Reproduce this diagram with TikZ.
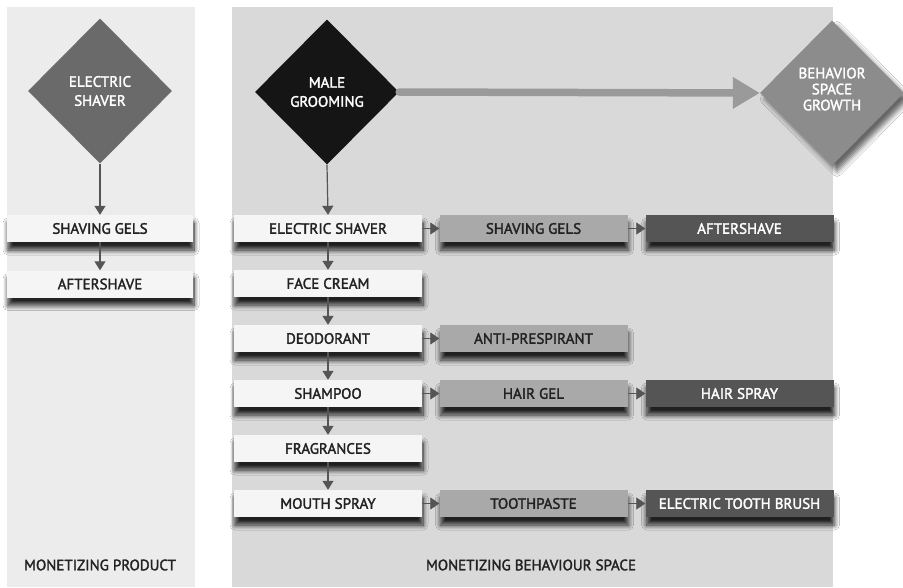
\documentclass[tikz,border=0pt]{standalone}
\usepackage{fontspec}
\setmainfont{PT Sans}
\usetikzlibrary{shapes.geometric,arrows.meta,shadows,shadows.blur}

\definecolor{panelL}{HTML}{ECECEC}
\definecolor{panelR}{HTML}{D9D9D9}
\definecolor{boxA}{HTML}{F5F5F5}
\definecolor{boxB}{HTML}{A9A9A9}
\definecolor{boxC}{HTML}{555555}
\definecolor{dmdA}{HTML}{6A6A6A}
\definecolor{dmdB}{HTML}{151515}
\definecolor{dmdC}{HTML}{8C8C8C}
\definecolor{ink}{HTML}{222222}
\definecolor{arr}{HTML}{555555}
\definecolor{bigarr}{HTML}{9A9A9A}

\tikzset{
  txt/.style={font=\fontsize{15}{19}\selectfont\addfontfeature{FakeBold=2}},
  lbl/.style={txt, text=ink},
  card/.style={rectangle, minimum width=188pt, minimum height=27pt, inner sep=0pt, txt,
    blur shadow={shadow xshift=1pt, shadow yshift=-8pt, shadow blur radius=5pt, shadow blur steps=10, shadow opacity=85}},
  cardA/.style={card, fill=boxA, text=ink},
  cardB/.style={card, fill=boxB, text=ink},
  cardC/.style={card, fill=boxC, text=white},
  dmd/.style={diamond, minimum width=144pt, minimum height=145pt, inner sep=0pt,
    align=center, text=white, txt},
  down/.style={draw=arr, line width=1.2pt, -{Triangle[length=9pt,width=11pt]}},
  side/.style={draw=arr, line width=0.8pt, -{Triangle[length=9pt,width=12pt]}},
}

\begin{document}
\begin{tikzpicture}[x=1pt,y=-1pt]
  \useasboundingbox (0,0) rectangle (903,587);
  \fill[white] (0,0) rectangle (903,587);

  % background panels
  \fill[panelL] (7,7) rectangle (195,587);
  \fill[panelR] (232,7) rectangle (833,587);

  % left panel: single product
  \node[dmd, fill=dmdA] (es) at (100,91) {ELECTRIC\\SHAVER};
  \node[cardA, minimum width=186pt] (lgels) at (100,228.5) {SHAVING GELS};
  \node[cardA, minimum width=186pt] (lafter) at (100,284) {AFTERSHAVE};
  \draw[down] (es.south) -- (lgels.north);
  \draw[down] (lgels.south) -- (lafter.north);
  \node[lbl] (lcap) at (100,565) {MONETIZING PRODUCT};

  % right panel: behaviour space
  \node[dmd, fill=dmdC, font=\fontsize{15}{16}\selectfont\addfontfeature{FakeBold=2},
    blur shadow={shadow xshift=5pt, shadow yshift=-6pt, shadow blur radius=5pt, shadow opacity=60}]
    (bsg) at (832,93) {BEHAVIOR\\SPACE\\GROWTH\\[-8pt]};
  \node[dmd, fill=dmdB] (mg) at (327,92) {MALE\\GROOMING};
  \draw[bigarr, line width=7.5pt, line cap=round, -{Triangle[length=27pt,width=30pt]}] (mg.east) -- (bsg.west);

  % first column
  \node[cardA] (c1) at (328,228.5) {ELECTRIC SHAVER};
  \node[cardA] (c2) at (328,283.5) {FACE CREAM};
  \node[cardA] (c3) at (328,338.5) {DEODORANT};
  \node[cardA] (c4) at (328,393.5) {SHAMPOO};
  \node[cardA] (c5) at (328,448.5) {FRAGRANCES};
  \node[cardA] (c6) at (328,503.5) {MOUTH SPRAY};
  \draw[down] (mg.south) -- (c1.north);
  \draw[down] (c1.south) -- (c2.north);
  \draw[down] (c2.south) -- (c3.north);
  \draw[down] (c3.south) -- (c4.north);
  \draw[down] (c4.south) -- (c5.north);
  \draw[down] (c5.south) -- (c6.north);

  % second column
  \node[cardB] (d1) at (533.5,228.5) {SHAVING GELS};
  \node[cardB] (d3) at (533.5,338.5) {ANTI-PRESPIRANT};
  \node[cardB] (d4) at (533.5,393.5) {HAIR GEL};
  \node[cardB] (d6) at (533.5,503.5) {TOOTHPASTE};

  % third column
  \node[cardC] (e1) at (739.5,228.5) {AFTERSHAVE};
  \node[cardC] (e4) at (739.5,393.5) {HAIR SPRAY};
  \node[cardC] (e6) at (739.5,503.5) {ELECTRIC TOOTH BRUSH};

  \draw[side] (c1.east) -- (d1.west);
  \draw[side] (c3.east) -- (d3.west);
  \draw[side] (c4.east) -- (d4.west);
  \draw[side] (c6.east) -- (d6.west);
  \draw[side] (d1.east) -- (e1.west);
  \draw[side] (d4.east) -- (e4.west);
  \draw[side] (d6.east) -- (e6.west);

  \node[lbl] (rcap) at (531,565) {MONETIZING BEHAVIOUR SPACE};
\end{tikzpicture}
\end{document}
